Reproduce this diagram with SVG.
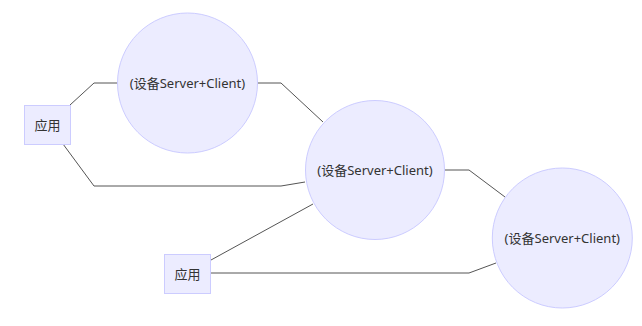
<svg xmlns="http://www.w3.org/2000/svg" width="642" height="326" viewBox="0 0 642 326">
<style>
.node{fill:#ECECFF;stroke:#CCCCFF;stroke-width:1}
.lbl{font-family:"Microsoft YaHei","Noto Sans","Noto Sans CJK SC",sans-serif;font-size:13px;fill:#333;text-anchor:middle;dominant-baseline:central}
.edge{fill:none;stroke:#555;stroke-width:1}
</style>
<rect width="642" height="326" fill="#fff"/>
<g id="edges">
<polyline class="edge" points="70,105 94,83 117,83"/>
<polyline class="edge" points="258,83 281,83 323,122"/>
<polyline class="edge" points="63,144 94,186 281,186 305,182"/>
<polyline class="edge" points="445,170 469,170 505,197"/>
<polyline class="edge" points="211,260 313,204"/>
<polyline class="edge" points="211,273 469,273 496,263"/>
</g>
<g id="dev1"><circle class="node" cx="187.5" cy="83" r="70"/><text class="lbl" x="187.5" y="83">(设备Server+Client)</text></g>
<g id="dev2"><circle class="node" cx="375" cy="170" r="69.5"/><text class="lbl" x="375" y="170">(设备Server+Client)</text></g>
<g id="dev3"><circle class="node" cx="562.3" cy="238" r="70"/><text class="lbl" x="562.3" y="238">(设备Server+Client)</text></g>
<g id="app1"><rect class="node" x="24.5" y="105.5" width="46" height="39"/><text class="lbl" x="47.5" y="125">应用</text></g>
<g id="app2"><rect class="node" x="164.5" y="254.5" width="46" height="39"/><text class="lbl" x="187.5" y="274">应用</text></g>
</svg>
